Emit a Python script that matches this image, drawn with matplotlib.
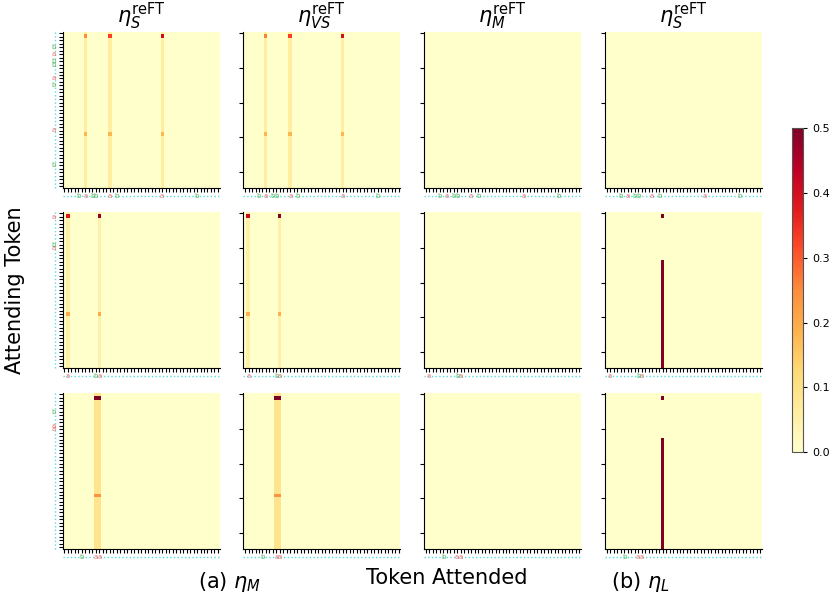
import numpy as np
import matplotlib
matplotlib.use("Agg")
import matplotlib.pyplot as plt
from matplotlib.transforms import blended_transform_factory

N = 45  # sequence length

titles = [r"$\eta_S^{\mathrm{reFT}}$", r"$\eta_{VS}^{\mathrm{reFT}}$",
          r"$\eta_M^{\mathrm{reFT}}$", r"$\eta_S^{\mathrm{reFT}}$"]

# token positions of 'a' and 'b' for each example (row of panels)
a_pos = [[6, 13, 28], [1, 10], [9, 10]]
b_pos = [[4, 8, 9, 15, 38], [9], [5]]

# faint vertical stripes in the first two methods
stripe_cols = [[6, 13, 28], [1, 10], [9, 10]]
stripe_vals = [0.06, 0.05, 0.09]

# strong attention entries (query row, key col, weight)
spots_S = [
    [(1, 6, 0.25), (1, 13, 0.33), (1, 28, 0.41), (29, 6, 0.18), (29, 13, 0.18), (29, 28, 0.18)],
    [(1, 1, 0.38), (1, 10, 0.48), (29, 1, 0.2), (29, 10, 0.2)],
    [(1, 9, 0.5), (1, 10, 0.5), (29, 9, 0.24), (29, 10, 0.24)],
]
spots_VS = [
    [(1, 6, 0.26), (1, 13, 0.33), (1, 28, 0.40), (29, 6, 0.18), (29, 13, 0.18), (29, 28, 0.18)],
    [(1, 1, 0.42), (1, 10, 0.5), (29, 1, 0.19), (29, 10, 0.19)],
    [(1, 9, 0.5), (1, 10, 0.5), (29, 9, 0.24), (29, 10, 0.24)],
]

# eta_L: one key column attended strongly
line_col = [None, 16, 16]
line_start = [None, 14, 13]
line_dot = 1


def make_matrix(r, m):
    M = np.zeros((N, N))
    if m in (0, 1):
        for c in stripe_cols[r]:
            M[:, c] = stripe_vals[r]
        for (i, j, v) in (spots_S if m == 0 else spots_VS)[r]:
            M[i, j] = v
    if m == 3 and line_col[r] is not None:
        M[line_dot, line_col[r]] = 0.5
        M[line_start[r]:, line_col[r]] = 0.5
    return M


fig = plt.figure(figsize=(8.31, 6.02), dpi=100)
W, H = 831, 602
lefts = [62.7, 243.3, 424.0, 605.0]
tops = [31.7, 211.7, 392.7]
pw, ph = 157, 156

col_a, col_b = "#f25a5a", "#45a845"
cyan = "#55dede"

for r in range(3):
    for m in range(4):
        ax = fig.add_axes([lefts[m] / W, 1 - (tops[r] + ph) / H, pw / W, ph / H])
        im = ax.imshow(make_matrix(r, m), cmap="YlOrRd", vmin=0, vmax=0.5,
                       aspect="auto", interpolation="nearest")
        for s in ["top", "right"]:
            ax.spines[s].set_visible(False)
        ax.set_xticks(range(N))
        ax.set_xticklabels([])
        if m == 0:
            ax.set_yticks(range(N))
        else:
            ax.set_yticks([0, 10, 20, 30, 40])
        ax.set_yticklabels([])
        ax.tick_params(length=3, width=0.8)
        if r == 0:
            ax.set_title(titles[m], fontsize=15, pad=3)

        # token strip below x axis
        tx = blended_transform_factory(ax.transData, ax.transAxes)
        ax.plot([-0.5, N - 0.5], [-0.055, -0.055], ls=":", lw=1, color=cyan,
                transform=tx, clip_on=False)
        for p in a_pos[r]:
            ax.text(p, -0.055, "a", color=col_a, fontsize=5, ha="center", va="center",
                    alpha=0.85, transform=tx, clip_on=False)
        for p in b_pos[r]:
            ax.text(p, -0.055, "b", color=col_b, fontsize=5, ha="center", va="center",
                    alpha=0.85, transform=tx, clip_on=False)

        # token strip left of y axis (first column only)
        if m == 0:
            ty = blended_transform_factory(ax.transAxes, ax.transData)
            ax.plot([-0.05, -0.05], [-0.5, N - 0.5], ls=":", lw=1, color=cyan,
                    transform=ty, clip_on=False)
            for p in a_pos[r]:
                ax.text(-0.06, p, "a", color=col_a, fontsize=5, ha="center", va="center",
                        alpha=0.85, transform=ty, clip_on=False)
            for p in b_pos[r]:
                ax.text(-0.06, p, "b", color=col_b, fontsize=5, ha="center", va="center",
                        alpha=0.85, transform=ty, clip_on=False)

cax = fig.add_axes([791.7 / W, 1 - 452 / H, 11.6 / W, 323.7 / H])
cb = fig.colorbar(im, cax=cax)
cb.set_ticks([0.0, 0.1, 0.2, 0.3, 0.4, 0.5])
cb.ax.tick_params(labelsize=8, length=3)
cb.outline.set_edgecolor("#555555")

fig.text(15 / W, 1 - 290 / H, "Attending Token", rotation=90, fontsize=15,
         ha="center", va="center")
fig.text(447 / W, 1 - 578 / H, "Token Attended", fontsize=15, ha="center", va="center")
fig.text(230 / W, 1 - 582 / H, r"(a) $\eta_M$", fontsize=15, ha="center", va="center")
fig.text(640 / W, 1 - 582 / H, r"(b) $\eta_L$", fontsize=15, ha="center", va="center")

fig.savefig("out.png", dpi=100)
